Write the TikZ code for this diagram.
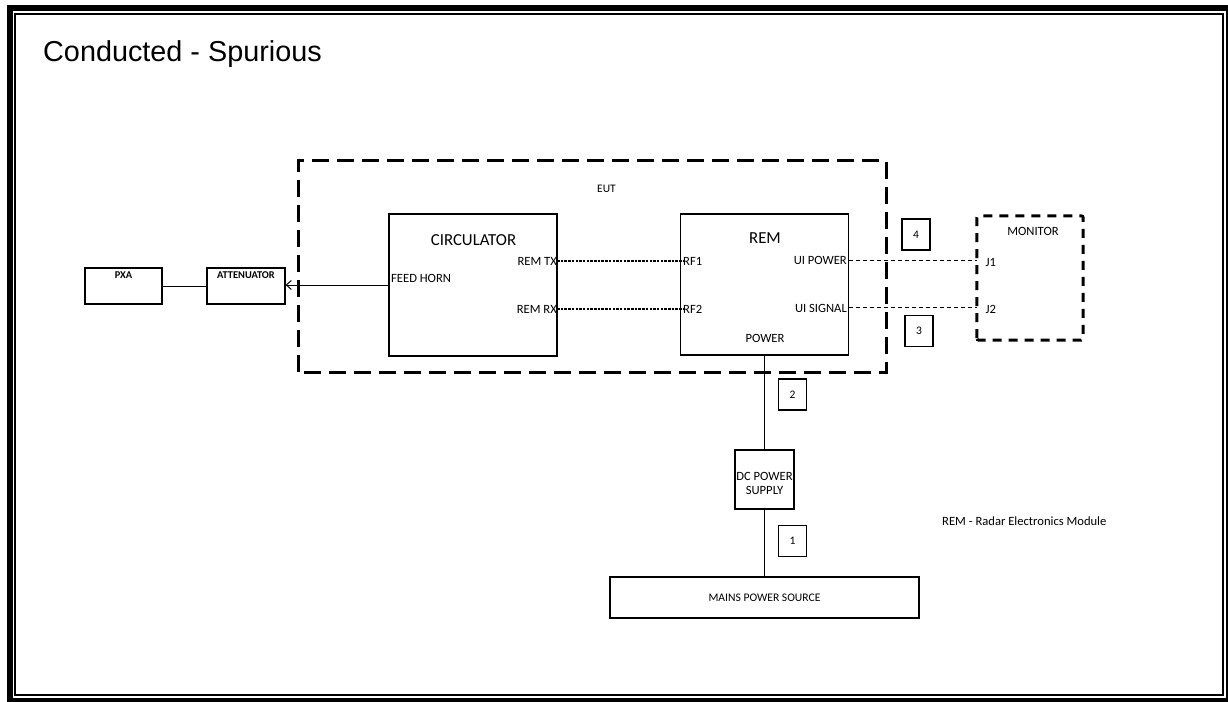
\documentclass[tikz,border=0pt]{standalone}
\usepackage{fontspec}
\setmainfont{Carlito}
\newfontfamily\titlefont{Liberation Sans}
\usetikzlibrary{arrows.meta,positioning}
\newcommand{\fsz}[1]{\fontsize{#1}{#1}\selectfont}
\tikzset{
  unit/.style={draw,line width=1.2pt,inner sep=0pt},
  tagbox/.style={draw,line width=1.2pt,inner sep=0pt,minimum width=28pt,
    minimum height=31pt,font=\fsz{11.5}},
  heading/.style={inner sep=0pt,anchor=base,font=\fsz{16.8}},
  portlbl/.style={inner sep=0pt,font=\fsz{12.6}},
  instlbl/.style={inner sep=0pt,anchor=base,font=\bfseries\fsz{10.4}},
  eutline/.style={line width=3pt,dash pattern=on 17pt off 8pt},
  monline/.style={line width=3pt,dash pattern=on 9pt off 7pt,rounded corners=2pt},
  rfline/.style={line width=1.4pt,dash pattern=on 2.5pt off 1.2pt},
  uiline/.style={line width=1.3pt,dash pattern=on 4pt off 3pt},
  feed/.style={line width=1pt},
  arrow/.style={-{Straight Barb[length=5pt,width=9pt]},line width=1pt}
}
\begin{document}
\begin{tikzpicture}[x=1pt,y=-1pt]
  \useasboundingbox (0,0) rectangle (1228,701);
  % page frame
  \draw[line width=6pt] (10,8) rectangle (1229,701);
  \draw[line width=2pt] (15,14) rectangle (1223,694.5);
  \node[anchor=base west,inner sep=0pt,font=\titlefont\fsz{28.8}] (title) at (43,61) {Conducted - Spurious};
  % equipment under test
  \node[minimum width=587pt,minimum height=211pt,inner sep=0pt] (eut) at (592.5,266.5) {};
  \draw[eutline] (eut.south west) rectangle (eut.north east);
  \node[inner sep=0pt,anchor=base,font=\fsz{11.5}] (eutlbl) at (606.5,192.5) {EUT};
  \node[unit,minimum width=168pt,minimum height=142pt] (circ) at (473,285) {};
  \node[heading] (circlbl) at (473.5,245) {CIRCULATOR};
  \node[portlbl,anchor=base west] (horn) at (391,282) {FEED HORN};
  \node[portlbl,anchor=base east] (remtx) at (557,265.5) {REM TX};
  \node[portlbl,anchor=base east] (remrx) at (557,313) {REM RX};
  \node[unit,minimum width=168pt,minimum height=141pt] (rem) at (764.5,284.5) {};
  \node[heading] (remlbl) at (765,243) {REM};
  \node[portlbl,anchor=base west] (rf1) at (683,265.5) {RF1};
  \node[portlbl,anchor=base west] (rf2) at (683,313) {RF2};
  \node[portlbl,anchor=base east] (uipwr) at (847,264.5) {UI POWER};
  \node[portlbl,anchor=base east] (uisig) at (847,312) {UI SIGNAL};
  \node[portlbl,anchor=base] (pwr) at (765,342.5) {POWER};
  % test instruments
  \node[unit,minimum width=77pt,minimum height=36pt] (pxa) at (123.5,286) {};
  \node[instlbl] at (123.5,278.5) {PXA};
  \node[unit,minimum width=78pt,minimum height=36pt] (att) at (246,286) {};
  \node[instlbl] at (246,278.5) {ATTENUATOR};
  % monitor
  \node[minimum width=106pt,minimum height=124pt,inner sep=0pt] (mon) at (1030,278) {};
  \draw[monline] (mon.south west) rectangle (mon.north east);
  \node[portlbl,anchor=base] (monlbl) at (1033,235.5) {MONITOR};
  \node[portlbl,anchor=base west] (j1) at (985.5,266.5) {J1};
  \node[portlbl,anchor=base west] (j2) at (985.5,313) {J2};
  % power chain
  \node[unit,minimum width=59pt,minimum height=59pt] (dc) at (764.5,479.5) {};
  \node[inner sep=0pt,align=center,font=\fontsize{12.6}{14}\selectfont] (dclbl) at (764.5,483) {DC POWER\\SUPPLY};
  \node[unit,minimum width=309pt,minimum height=41pt,font=\fsz{11.6}] (mains) at (764.5,597.5) {MAINS POWER SOURCE};
  \node[portlbl,anchor=base west] (note) at (942,525) {REM - Radar Electronics Module};
  % cable numbers
  \node[tagbox] (t4) at (916,234.5) {4};
  \node[tagbox] (t3) at (919,331) {3};
  \node[tagbox] (t2) at (792.5,394.5) {2};
  \node[tagbox] (t1) at (792.5,541) {1};
  % connections
  \draw[feed] (pxa) -- (att);
  \draw[arrow] (circ.west) -- (circ.west -| att.east);
  \draw[rfline] (remtx.east |- 0,261) -- (rf1.west |- 0,261);
  \draw[rfline] (remrx.east |- 0,309) -- (rf2.west |- 0,309);
  \draw[uiline] (rem.east |- 0,260.5) -- (mon.west |- 0,260.5);
  \draw[uiline] (rem.east |- 0,307.5) -- (mon.west |- 0,307.5);
  \draw[feed] (rem.south) -- (dc.north);
  \draw[feed] (dc.south) -- (mains.north);
\end{tikzpicture}
\end{document}
